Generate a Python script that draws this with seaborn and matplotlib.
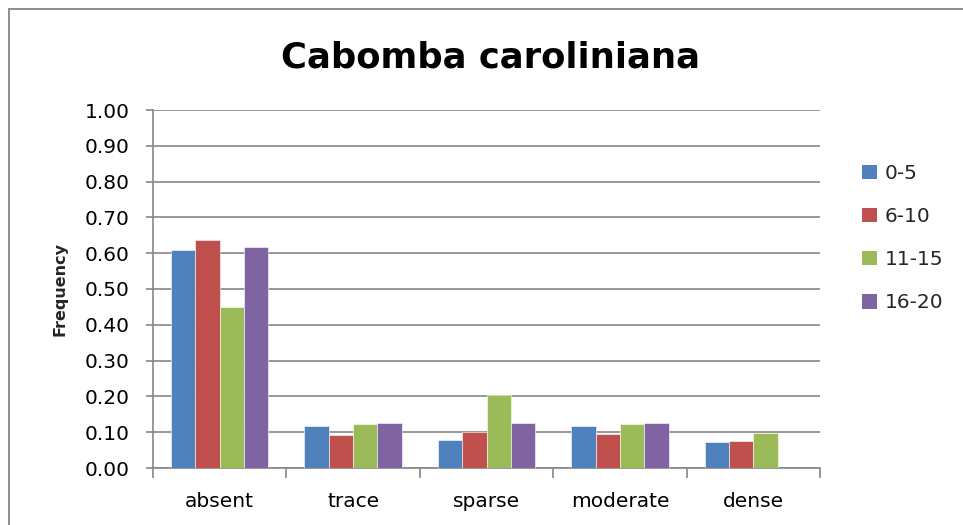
import matplotlib
matplotlib.use("Agg")
import matplotlib.pyplot as plt
import seaborn as sns
import pandas as pd
import numpy as np
from matplotlib.patches import Rectangle

categories = ["absent", "trace", "sparse", "moderate", "dense"]
series_names = ["0-5", "6-10", "11-15", "16-20"]
v_0_5 = [0.61, 0.117, 0.077, 0.118, 0.073]
v_6_10 = [0.636, 0.092, 0.100, 0.094, 0.076]
v_11_15 = [0.45, 0.122, 0.205, 0.123, 0.099]
v_16_20 = [0.617, 0.126, 0.127, 0.127, 0.0]
y_ticks = [0.0, 0.1, 0.2, 0.3, 0.4, 0.5, 0.6, 0.7, 0.8, 0.9, 1.0]
colors = ["#4F81BD", "#C0504D", "#9BBB59", "#8064A2"]

rows = []
for name, vals in zip(series_names, [v_0_5, v_6_10, v_11_15, v_16_20]):
    for c, v in zip(categories, vals):
        rows.append({"cat": c, "series": name, "val": v})
df = pd.DataFrame(rows)

sns.set_theme(style="white")
plt.rcParams["font.family"] = ["DejaVu Sans"]
grid_c = "#868686"

fig = plt.figure(figsize=(9.63, 5.25), dpi=100)
ax = fig.add_axes([153/963, 1 - 468/525, (820-153)/963, (468-110)/525])

sns.barplot(data=df, x="cat", y="val", hue="series", order=categories,
            hue_order=series_names, palette=colors, width=0.73, ax=ax,
            edgecolor="white", linewidth=0.4, saturation=1, zorder=3)

ax.set_xlim(-0.5, len(categories) - 0.5)
ax.set_ylim(0, 1.0)
ax.set_yticks(y_ticks)
ax.set_yticklabels([f"{t:.2f}" for t in y_ticks], fontsize=14.5, color="black")
ax.yaxis.grid(True, color=grid_c, linewidth=1.2, zorder=0)
ax.set_axisbelow(True)
ax.tick_params(axis="y", which="major", left=True, length=5, width=1.2,
               color=grid_c, pad=12)
ax.tick_params(axis="x", which="major", length=0, labelsize=14.5, pad=17,
               labelcolor="black")
ax.set_xticks(np.arange(-0.5, len(categories)), minor=True)
ax.tick_params(axis="x", which="minor", bottom=True, length=7, width=1.2,
               color=grid_c)
ax.set_xlabel("")
ax.set_ylabel("Frequency", fontsize=11.5, fontweight="bold", labelpad=12)

for s in ["top", "right"]:
    ax.spines[s].set_visible(False)
for s in ["left", "bottom"]:
    ax.spines[s].set_color(grid_c)
    ax.spines[s].set_linewidth(1.2)

leg = ax.legend(loc="upper left", bbox_to_anchor=(862/963, 1 - 164/525),
                bbox_transform=fig.transFigure, frameon=False, fontsize=14.5,
                handlelength=0.72, handleheight=0.72, handletextpad=0.4,
                labelspacing=1.2, borderaxespad=0, borderpad=0)
for h in leg.legend_handles:
    h.set_edgecolor("none")

fig.text(490/963, 1 - 57/525, "Cabomba caroliniana", ha="center", va="center",
         fontsize=25.5, fontweight="bold", color="black")

fig.patches.append(Rectangle((8.5/963, -0.1), 1.2, (1 - 9/525) + 0.1,
                             transform=fig.transFigure, fill=False,
                             edgecolor=grid_c, linewidth=1.3, clip_on=False))

fig.savefig("out.png", dpi=100, facecolor="white")
